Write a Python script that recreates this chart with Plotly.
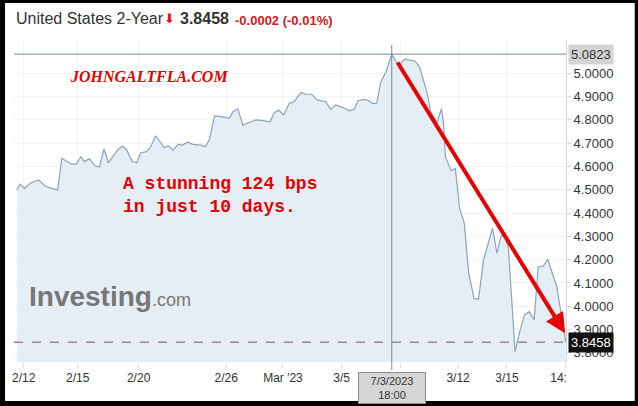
import plotly.graph_objects as go

# x = trading-day position (0 = the "2/12" tick), y = US 2-year yield (%)
days = [
    -0.38, -0.19, 0.05, 0.36, 0.82, 1.19, 1.46, 1.88, 2.10, 2.62, 2.89, 3.15, 3.35,
    3.63, 3.93, 4.18, 4.43, 4.67, 5.18, 5.46, 5.68, 5.99, 6.23, 6.46, 6.77, 7.01,
    7.27, 7.75, 7.97, 8.24, 8.52, 8.75, 9.03, 9.34, 9.76, 10.02, 10.25, 10.53, 10.90,
    11.35, 11.54, 11.81, 12.09, 12.45, 12.82, 13.19, 13.59, 13.82, 14.07, 14.34,
    14.65, 14.92, 15.29, 15.57, 15.88, 16.21, 16.66, 16.94, 17.21, 17.58, 17.95,
    18.22, 18.44, 18.77, 18.96, 19.23, 19.47, 19.69, 20.02, 20.30, 20.68, 21.01,
    21.39, 21.58, 21.83, 22.10, 22.27, 22.43, 22.80, 23.04, 23.16, 23.26, 23.57,
    23.81, 24.04, 24.30, 24.54, 24.85, 25.09, 25.36, 25.86, 26.10, 26.32, 26.56,
    26.74, 27.10, 27.38, 27.62, 27.88, 28.15, 28.38, 28.66, 28.90, 29.40, 29.58,
    29.86, 29.90,
]
yields = [
    4.499, 4.524, 4.506, 4.528, 4.542, 4.516, 4.508, 4.499, 4.635, 4.611, 4.609, 4.642, 4.621,
    4.633, 4.603, 4.598, 4.675, 4.616, 4.671, 4.688, 4.671, 4.621, 4.616, 4.659, 4.664, 4.685,
    4.732, 4.681, 4.688, 4.671, 4.695, 4.692, 4.704, 4.695, 4.692, 4.685, 4.717, 4.817, 4.814,
    4.807, 4.835, 4.847, 4.778, 4.788, 4.800, 4.797, 4.792, 4.831, 4.842, 4.821,
    4.871, 4.878, 4.918, 4.911, 4.910, 4.885, 4.878, 4.845, 4.864, 4.854, 4.839,
    4.845, 4.882, 4.888, 4.885, 4.871, 4.871, 4.961, 5.014, 5.0823, 5.031, 5.061,
    5.057, 5.053, 5.028, 4.950, 4.911, 4.838, 4.789, 4.848, 4.785, 4.641, 4.583,
    4.591, 4.421, 4.356, 4.142, 4.032, 4.032, 4.199, 4.335, 4.227, 4.299, 4.313,
    4.242, 3.805, 3.898, 3.963, 3.977, 3.941, 4.170, 4.173, 4.202, 4.084, 3.998,
    3.884, 3.8458,
]

tick_days = [0, 2.98, 6.34, 11.17, 14.30, 17.54, 20.79, 23.96, 26.65, 29.87]
tick_text = ["2/12", "2/15", "2/20", "2/26", "Mar '23", "3/5", "3/8", "3/12", "3/15", "14:00"]
yield_ticks = [3.8, 3.9, 4.0, 4.1, 4.2, 4.3, 4.4, 4.5, 4.6, 4.7, 4.8, 4.9, 5.0]

high_day, high_yield = 20.30, 5.0823
last_yield = 3.8458
arrow_from = (20.57, 5.053)
arrow_to = (29.86, 3.884)

# page geometry (pixels)
W, H = 638, 406
L, R, T, B = 12, 72, 40, 44
PW, PH = W - L - R, H - T - B


def px(x):
    return (x - L) / PW


def py(y):
    return (H - B - y) / PH


fig = go.Figure()
fig.add_trace(go.Scatter(
    x=days, y=yields, mode="lines",
    line=dict(color="#8aa4ba", width=1.2),
    fill="tozeroy", fillcolor="#e6eef5",
    hoverinfo="skip", showlegend=False,
))

shapes = [
    # crosshair
    dict(type="line", xref="paper", yref="y", x0=0, x1=1, y0=high_yield, y1=high_yield,
         line=dict(color="#6f8ba0", width=1)),
    dict(type="line", xref="x", yref="paper", x0=high_day, x1=high_day, y0=py(370), y1=py(45),
         line=dict(color="#6f8ba0", width=1)),
    # last price line
    dict(type="line", xref="paper", yref="y", x0=0, x1=1, y0=last_yield, y1=last_yield,
         line=dict(color="#9c8790", width=1.5, dash="dash")),
    # clip of the last x label
    dict(type="rect", xref="paper", yref="paper", x0=px(566.5), x1=px(632), y0=py(364), y1=py(385),
         fillcolor="white", line=dict(width=0), layer="above"),
    # black frame
    dict(type="rect", xref="paper", yref="paper", x0=px(0), x1=px(638), y0=py(406), y1=py(0),
         line=dict(color="black", width=6), fillcolor="rgba(0,0,0,0)", layer="above"),
    dict(type="rect", xref="paper", yref="paper", x0=px(0), x1=px(638), y0=py(406), y1=py(401),
         fillcolor="black", line=dict(width=0), layer="above"),
]

annotations = [
    dict(text="United States 2-Year", x=px(12), y=py(19), xref="paper", yref="paper",
         xanchor="left", yanchor="middle", showarrow=False,
         font=dict(family="Liberation Sans", size=16, color="#333333")),
    dict(text="⬇", x=px(161), y=py(19), xref="paper", yref="paper",
         xanchor="left", yanchor="middle", showarrow=False,
         font=dict(family="DejaVu Sans", size=13, color="#e01010")),
    dict(text="<b>3.8458</b>", x=px(177), y=py(19), xref="paper", yref="paper",
         xanchor="left", yanchor="middle", showarrow=False,
         font=dict(family="Liberation Sans", size=16, color="#333333")),
    dict(text="<b>-0.0002 (-0.01%)</b>", x=px(232), y=py(20), xref="paper", yref="paper",
         xanchor="left", yanchor="middle", showarrow=False,
         font=dict(family="Liberation Sans", size=13, color="#cc1a22")),
    dict(text="<b><i>JOHNGALTFLA.COM</i></b>", x=px(66), y=py(76), xref="paper", yref="paper",
         xanchor="left", yanchor="middle", showarrow=False,
         font=dict(family="Liberation Serif", size=16, color="#e00000")),
    dict(text="<b>A stunning 124 bps<br>in just 10 days.</b>", x=px(119), y=py(195),
         xref="paper", yref="paper", xanchor="left", yanchor="middle", align="left",
         showarrow=False, font=dict(family="Liberation Mono", size=18, color="#e00000")),
    dict(text="<b>Investing</b><span style='font-size:18px'>.com</span>", x=px(25), y=py(296),
         xref="paper", yref="paper", xanchor="left", yanchor="middle", showarrow=False,
         font=dict(family="Liberation Sans", size=28, color="#777777")),
    # price tags on the axis
    dict(text=f"{high_yield:.4f}", x=1, y=high_yield, xref="paper", yref="y",
         xanchor="left", yanchor="middle", showarrow=False, bgcolor="#d3d3d3",
         borderpad=2, xshift=2, font=dict(family="Liberation Sans", size=13, color="#333333")),
    dict(text=f"{last_yield:.4f}", x=1, y=last_yield, xref="paper", yref="y",
         xanchor="left", yanchor="middle", showarrow=False, bgcolor="#111111",
         borderpad=2, xshift=2, font=dict(family="Liberation Sans", size=13, color="white")),
    # hover date box
    dict(text="7/3/2023<br>18:00", x=high_day, y=py(372), xref="x", yref="paper",
         xanchor="center", yanchor="top", showarrow=False, bgcolor="#d6d6d6",
         bordercolor="#8c8c8c", borderwidth=1, borderpad=2, width=62,
         font=dict(family="Liberation Sans", size=11, color="#333333")),
    # red arrow
    dict(text="", x=arrow_to[0], y=arrow_to[1], ax=arrow_from[0], ay=arrow_from[1],
         xref="x", yref="y", axref="x", ayref="y", showarrow=True,
         arrowhead=2, arrowsize=1, arrowwidth=4, arrowcolor="#e60000"),
]

fig.update_layout(
    width=W, height=H,
    margin=dict(l=L, r=R, t=T, b=B),
    paper_bgcolor="white", plot_bgcolor="white",
    xaxis=dict(
        range=[-0.533, 29.91], tickvals=tick_days, ticktext=tick_text,
        showgrid=True, gridcolor="#f1f3f5", zeroline=False, showline=False,
        ticks="outside", ticklen=5, tickcolor="#dddddd",
        tickfont=dict(family="Liberation Sans", size=12, color="#333333"),
    ),
    yaxis=dict(
        range=[3.7609, 5.1429], side="right", tickvals=yield_ticks, tickformat=".4f",
        showgrid=True, gridcolor="#f1f3f5", zeroline=False,
        showline=True, linecolor="#d5d5d5", ticks="outside", ticklen=4, tickcolor="#d5d5d5",
        tickfont=dict(family="Liberation Sans", size=13, color="#333333"),
    ),
    shapes=shapes,
    annotations=annotations,
    showlegend=False,
)

# the page's default body margin would push the 638x406 figure off the window
fig.write_html(
    "out.html",
    config={"displayModeBar": False},
    post_script="document.body.style.margin = '0';",
)
